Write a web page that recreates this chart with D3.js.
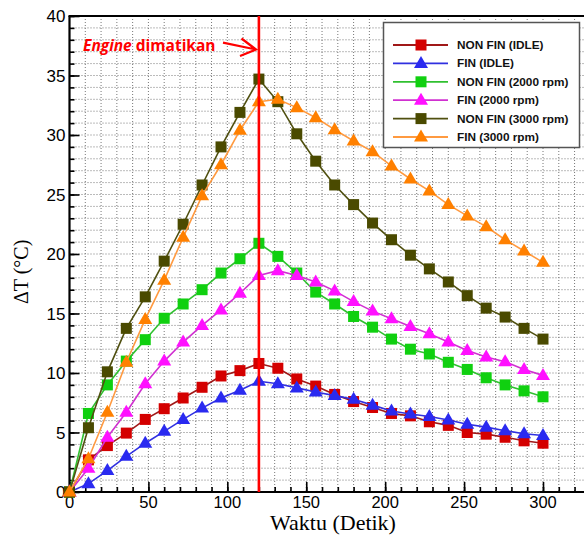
<!DOCTYPE html>
<html>
<head>
<meta charset="utf-8">
<script src="https://cdn.jsdelivr.net/npm/d3@7"></script>
<style>
  body { margin: 0; background: #fff; }
  svg { display: block; }
</style>
</head>
<body>
<div id="chart"></div>
<script>
// data
var waktu = [0, 12, 24, 36, 48, 60, 72, 84, 96, 108, 120, 132, 144, 156, 168, 180, 192, 204, 216, 228, 240, 252, 264, 276, 288, 300];

var nonFinIdle = [0, 2.7, 3.9, 4.95, 6.1, 7.0, 7.9, 8.8, 9.75, 10.2, 10.8, 10.4, 9.5, 8.9, 8.2, 7.6, 7.1, 6.6, 6.4, 5.9, 5.6, 5.0, 4.86, 4.6, 4.3, 4.1];
var finIdle = [0, 0.7, 1.8, 3.0, 4.1, 5.1, 6.1, 7.05, 7.9, 8.55, 9.3, 9.1, 8.75, 8.4, 8.1, 7.8, 7.3, 6.8, 6.55, 6.35, 6.05, 5.7, 5.45, 5.15, 4.9, 4.75];
var nonFin2000 = [0, 6.6, 9.0, 11.0, 12.8, 14.6, 15.8, 17.0, 18.4, 19.6, 20.9, 19.8, 18.4, 16.8, 15.8, 14.75, 13.85, 12.85, 12.0, 11.6, 10.9, 10.3, 9.6, 9.0, 8.5, 8.0];
var fin2000 = [0, 2.0, 4.6, 6.7, 9.1, 11.0, 12.6, 14.0, 15.3, 16.7, 18.2, 18.6, 18.2, 17.65, 16.9, 16.0, 15.2, 14.55, 13.9, 13.3, 12.6, 11.9, 11.35, 10.95, 10.3, 9.8];
var nonFin3000 = [0, 5.4, 10.1, 13.75, 16.4, 19.4, 22.5, 25.8, 29.0, 31.9, 34.7, 32.8, 30.1, 27.8, 25.8, 24.15, 22.6, 21.2, 19.9, 18.75, 17.65, 16.5, 15.45, 14.7, 13.75, 12.85];
var fin3000 = [0, 2.8, 6.7, 10.9, 14.5, 17.8, 21.4, 24.9, 27.5, 30.4, 32.8, 33.0, 32.3, 31.45, 30.45, 29.5, 28.6, 27.4, 26.3, 25.3, 24.15, 23.2, 22.3, 21.2, 20.25, 19.3];

var seriesNames = ["NON FIN (IDLE)", "FIN (IDLE)", "NON FIN (2000 rpm)", "FIN (2000 rpm)", "NON FIN (3000 rpm)", "FIN (3000 rpm)"];
var xTicks = [0, 50, 100, 150, 200, 250, 300];
var yTicks = [0, 5, 10, 15, 20, 25, 30, 35, 40];
var engineOff = 120;

var seriesValues = [nonFinIdle, finIdle, nonFin2000, fin2000, nonFin3000, fin3000];
var seriesStyle = [
  { line: "#a01818", fill: "#d40000", shape: "square" },
  { line: "#3030e0", fill: "#2a2af0", shape: "triangle" },
  { line: "#30c030", fill: "#10d010", shape: "square" },
  { line: "#d030d0", fill: "#ff10ff", shape: "triangle" },
  { line: "#505010", fill: "#4a4a00", shape: "square" },
  { line: "#ff9a40", fill: "#ff8000", shape: "triangle" }
];

var svgWidth = 584;
var svgHeight = 537;

var margin = { top: 16, left: 69.5, bottom: 45 };
var plotBottom = svgHeight - margin.bottom; // 492

var svg = d3.select("#chart")
  .append("svg")
  .attr("width", svgWidth)
  .attr("height", svgHeight);

// scales
var x = d3.scaleLinear()
  .domain([0, 300])
  .range([margin.left, 543]);

var y = d3.scaleLinear()
  .domain([0, 40])
  .range([plotBottom, margin.top]);

var xRight = x(330);

// grid (dotted)
var grid = svg.append("g");
grid.selectAll(".gx")
  .data(d3.range(10, 331, 10))
  .enter()
  .append("line")
  .attr("x1", d => x(d)).attr("x2", d => x(d))
  .attr("y1", y(40)).attr("y2", y(0))
  .attr("stroke", "#777")
  .attr("stroke-width", 1)
  .attr("stroke-dasharray", "1,2");

grid.selectAll(".gy")
  .data(d3.range(1, 40, 1))
  .enter()
  .append("line")
  .attr("x1", x(0)).attr("x2", xRight)
  .attr("y1", d => y(d)).attr("y2", d => y(d))
  .attr("stroke", "#777")
  .attr("stroke-width", 1)
  .attr("stroke-dasharray", "1,2");

// axes with inward ticks
var bottomMinor = d3.axisTop(x).tickValues(d3.range(0, 331, 10)).tickSize(5).tickFormat("");
var bottomMajor = d3.axisTop(x).tickValues(xTicks).tickSize(10).tickFormat("");
var leftMinor = d3.axisRight(y).tickValues(d3.range(0, 41, 1)).tickSize(5).tickFormat("");
var leftMajor = d3.axisRight(y).tickValues(yTicks).tickSize(10).tickFormat("");

[bottomMinor, bottomMajor].forEach(function (ax) {
  svg.append("g")
    .attr("transform", `translate(0, ${plotBottom})`)
    .call(ax)
    .call(g => g.select(".domain").remove())
    .selectAll("line").attr("stroke", "#000").attr("stroke-width", 1.6);
});
[leftMinor, leftMajor].forEach(function (ax) {
  svg.append("g")
    .attr("transform", `translate(${margin.left}, 0)`)
    .call(ax)
    .call(g => g.select(".domain").remove())
    .selectAll("line").attr("stroke", "#000").attr("stroke-width", 1.6);
});

// frame
svg.append("line")
  .attr("x1", margin.left).attr("x2", margin.left)
  .attr("y1", y(40)).attr("y2", y(0))
  .attr("stroke", "#000").attr("stroke-width", 2.2);
svg.append("line")
  .attr("x1", margin.left - 1).attr("x2", xRight)
  .attr("y1", y(0)).attr("y2", y(0))
  .attr("stroke", "#000").attr("stroke-width", 2.2);
svg.append("line")
  .attr("x1", margin.left - 1).attr("x2", xRight)
  .attr("y1", y(40)).attr("y2", y(40))
  .attr("stroke", "#000").attr("stroke-width", 2);

// tick labels
svg.selectAll(".xl")
  .data(xTicks)
  .enter()
  .append("text")
  .attr("x", d => x(d))
  .attr("y", plotBottom + 16)
  .attr("text-anchor", "middle")
  .attr("font-family", "Liberation Sans, Arial, sans-serif")
  .attr("font-size", 16.5)
  .text(d => d);

svg.selectAll(".yl")
  .data(yTicks)
  .enter()
  .append("text")
  .attr("x", margin.left - 4)
  .attr("y", d => y(d) + 6)
  .attr("text-anchor", "end")
  .attr("font-family", "Liberation Sans, Arial, sans-serif")
  .attr("font-size", 17)
  .text(d => d);

// axis titles
svg.append("text")
  .attr("x", 333)
  .attr("y", 530)
  .attr("text-anchor", "middle")
  .attr("font-family", "Liberation Serif, Times New Roman, serif")
  .attr("font-size", 22)
  .text("Waktu (Detik)");

svg.append("text")
  .attr("transform", `translate(28, ${y(18.5)}) rotate(-90)`)
  .attr("text-anchor", "middle")
  .attr("font-family", "Liberation Serif, Times New Roman, serif")
  .attr("font-size", 20)
  .text("\u0394T (\u00B0C)");

// markers
function drawMarker(g, shape, cx, cy, fill) {
  if (shape === "square") {
    g.append("rect")
      .attr("x", cx - 5.5).attr("y", cy - 5.5)
      .attr("width", 11).attr("height", 11)
      .attr("fill", fill);
  } else {
    g.append("path")
      .attr("d", `M${cx},${cy - 7.5} L${cx + 7},${cy + 4.5} L${cx - 7},${cy + 4.5} Z`)
      .attr("fill", fill);
  }
}

var line = d3.line()
  .x(d => x(d[0]))
  .y(d => y(d[1]));

seriesValues.forEach(function (vals, i) {
  var pts = waktu.map((t, j) => [t, vals[j]]);
  var g = svg.append("g");
  g.append("path")
    .attr("d", line(pts))
    .attr("fill", "none")
    .attr("stroke", seriesStyle[i].line)
    .attr("stroke-width", 1.6);
  pts.forEach(function (p) {
    drawMarker(g, seriesStyle[i].shape, x(p[0]), y(p[1]), seriesStyle[i].fill);
  });
});

// engine off line
svg.append("line")
  .attr("x1", x(engineOff)).attr("x2", x(engineOff))
  .attr("y1", y(40)).attr("y2", y(0))
  .attr("stroke", "#ff0000")
  .attr("stroke-width", 2.6);

// annotation
var note = svg.append("text")
  .attr("x", 83)
  .attr("y", 51)
  .attr("fill", "#ff0000")
  .attr("font-family", "Open Sans, sans-serif")
  .attr("font-weight", "bold")
  .attr("font-size", 15.5);
note.append("tspan").attr("font-style", "italic").text("Engine");
note.append("tspan").text(" dimatikan");

svg.append("path")
  .attr("d", "M223,42.7 L256,49.5 M241.5,38.5 L256,49.5 L240,56")
  .attr("fill", "none")
  .attr("stroke", "#ff0000")
  .attr("stroke-width", 2.2);

// legend
var legend = svg.append("g");
legend.append("rect")
  .attr("x", 383.5).attr("y", 22.5)
  .attr("width", 196).attr("height", 125)
  .attr("fill", "#fff")
  .attr("stroke", "#555")
  .attr("stroke-width", 1.5);

seriesNames.forEach(function (name, i) {
  var ly = 45 + i * 18.4;
  legend.append("line")
    .attr("x1", 393).attr("x2", 448)
    .attr("y1", ly).attr("y2", ly)
    .attr("stroke", seriesStyle[i].line)
    .attr("stroke-width", 1.8);
  drawMarker(legend, seriesStyle[i].shape, 421, ly, seriesStyle[i].fill);
  legend.append("text")
    .attr("x", 457)
    .attr("y", ly + 4)
    .attr("font-family", "Liberation Sans, Arial, sans-serif")
    .attr("font-weight", "bold")
    .attr("font-size", 11.8)
    .attr("fill", "#111")
    .text(name);
});
</script>
</body>
</html>
